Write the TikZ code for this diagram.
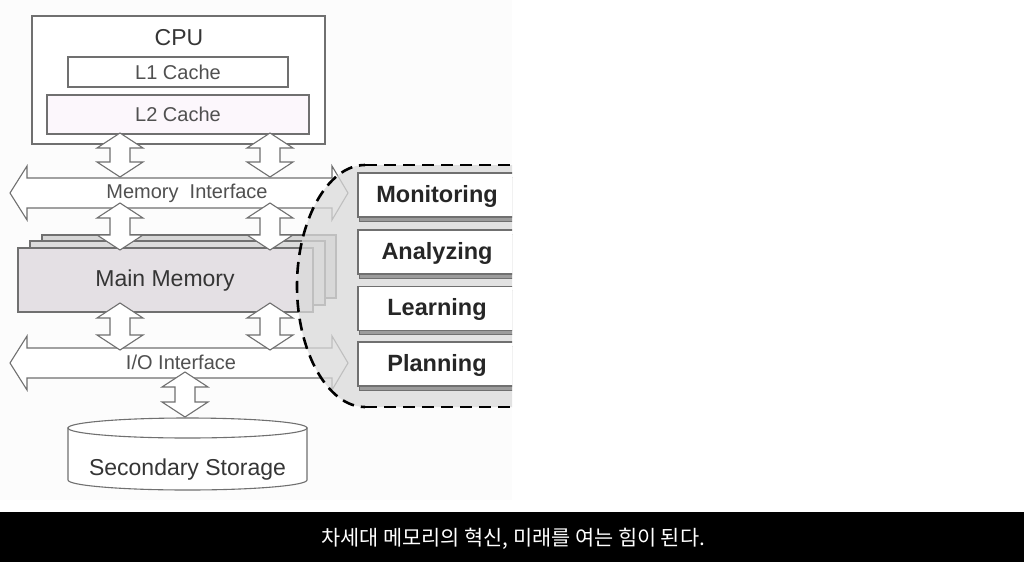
\documentclass[tikz,border=0pt]{standalone}
\usepackage{fontspec}
\setmainfont{Liberation Sans}
\newfontfamily\krfont{Noto Sans CJK KR}
\usetikzlibrary{calc}
\definecolor{panelbg}{HTML}{FCFCFC}
\definecolor{edge}{HTML}{707070}
\definecolor{txtdark}{HTML}{262626}
\definecolor{txtmid}{HTML}{353535}
\definecolor{txtlight}{HTML}{505050}
\definecolor{ltwo}{HTML}{FCF7FC}
\definecolor{memfront}{HTML}{E4E0E4}
\definecolor{memback}{HTML}{D6D6D6}
\definecolor{regiongray}{HTML}{DADADA}
\definecolor{shadowgray}{HTML}{9C9C9C}
\newcommand\fsz[1]{\fontsize{#1}{#1}\selectfont}
\begin{document}
\begin{tikzpicture}[x=1pt,y=-1pt,
  box/.style={draw=edge, line width=1.2pt, fill=white, inner sep=0pt, rectangle},
  memlayer/.style={draw=edge, line width=1.2pt, inner sep=0pt, rectangle},
  fatarrow/.style={draw=edge, line width=1.1pt, fill=white, line join=miter},
  lbl/.style={inner sep=0pt, text=txtmid},
  boldlbl/.style={inner sep=0pt, text=txtdark, font=\bfseries\fsz{23.5}},
  stagebox/.style={draw=edge, line width=1.2pt, fill=white, rectangle, inner sep=0pt,
    minimum width=158pt, minimum height=44pt},
  stageshadow/.style={draw=edge, line width=1pt, fill=shadowgray, rectangle, inner sep=0pt,
    minimum width=158pt, minimum height=44pt},
  fatv/.style={to path={
    let \p1=(\tikztostart), \p2=(\tikztotarget) in
    (\x1,\y1) -- (\x1+23pt,\y1-15pt) -- (\x1+10pt,\y1-15pt) -- (\x1+10pt,\y2+15pt)
    -- (\x1+23pt,\y2+15pt) -- (\x2,\y2) -- (\x1-23pt,\y2+15pt) -- (\x1-10pt,\y2+15pt)
    -- (\x1-10pt,\y1-15pt) -- (\x1-23pt,\y1-15pt) -- cycle}},
  fath/.style={to path={
    let \p1=(\tikztostart), \p2=(\tikztotarget) in
    (\x1,\y1) -- (\x1+17pt,\y1+27pt) -- (\x1+17pt,\y1+15pt) -- (\x2-16pt,\y1+15pt)
    -- (\x2-16pt,\y1+27pt) -- (\x2,\y2) -- (\x2-16pt,\y1-27pt) -- (\x2-16pt,\y1-15pt)
    -- (\x1+17pt,\y1-15pt) -- (\x1+17pt,\y1-27pt) -- cycle}}
]
\useasboundingbox (0,0) rectangle (1024,562);
\fill[white] (0,0) rectangle (1024,562);
\fill[panelbg] (0,0) rectangle (512,500);

% CPU block
\node[box, minimum width=293pt, minimum height=128pt] (cpu) at (178.5,80) {};
\node[lbl, font=\fsz{23}] (cpulabel) at (179,38) {CPU};
\node[box, minimum width=220pt, minimum height=30pt, font=\fsz{20}, text=txtlight] (l1) at (178,72) {L1 Cache};
\node[box, fill=ltwo, minimum width=262pt, minimum height=39pt, font=\fsz{20}, text=txtlight] (l2) at (178,114.5) {L2 Cache};

% Main memory stack
\node[memlayer, fill=memback, minimum width=294pt, minimum height=63pt] (mm3) at (189,266.5) {};
\node[memlayer, fill=memback!85!white, minimum width=295pt, minimum height=64pt] (mm2) at (177.5,273) {};
\node[memlayer, fill=memfront, minimum width=295pt, minimum height=64pt] (mm) at (165.5,280) {};
\node[lbl, font=\fsz{23}] (mmlabel) at (165,281) {Main Memory};

% interface arrows
\coordinate (mil) at (10,193);
\coordinate (mir) at (348,193);
\coordinate (iol) at (10,363);
\coordinate (ior) at (348,363);
\draw[fatarrow] (mil) to[fath] (mir);
\draw[fatarrow] (iol) to[fath] (ior);

% secondary storage
\coordinate (stc) at (187.5,428);
\path[fatarrow] (68,428) -- (68,480) .. controls (68,485.5) and (121.5,490) .. (187.5,490)
  .. controls (253.5,490) and (307,485.5) .. (307,480) -- (307,428) -- cycle;
\draw[fatarrow] (stc) ellipse [x radius=119.5, y radius=10];
\node[lbl, font=\fsz{23}] (storage) at (187.5,470) {Secondary Storage};

% vertical arrows
\coordinate (a1t) at (120,133); \coordinate (a1b) at (120,177);
\coordinate (a2t) at (270,133); \coordinate (a2b) at (270,177);
\coordinate (a3t) at (120,203); \coordinate (a3b) at (120,250);
\coordinate (a4t) at (270,203); \coordinate (a4b) at (270,250);
\coordinate (a5t) at (120,303); \coordinate (a5b) at (120,350);
\coordinate (a6t) at (270,303); \coordinate (a6b) at (270,350);
\coordinate (a7t) at (185,372); \coordinate (a7b) at (185,417);
\draw[fatarrow] (a1t) to[fatv] (a1b);
\draw[fatarrow] (a2t) to[fatv] (a2b);
\draw[fatarrow] (a3t) to[fatv] (a3b);
\draw[fatarrow] (a4t) to[fatv] (a4b);
\draw[fatarrow] (a5t) to[fatv] (a5b);
\draw[fatarrow] (a6t) to[fatv] (a6b);
\draw[fatarrow] (a7t) to[fatv] (a7b);

\node[lbl, text=txtlight, font=\fsz{20}] (memif) at (187,193) {Memory\ \ Interface};
\node[lbl, text=txtlight, font=\fsz{20}] (ioif) at (181,362) {I/O Interface};

% autonomic panel
\begin{scope}
\clip (0,0) rectangle (512,500);
\fill[regiongray, fill opacity=0.75] (530,165) -- (365,165) .. controls (328,165) and (297,220) .. (297,286)
  .. controls (297,352) and (328,407) .. (365,407) -- (530,407) -- cycle;
\draw[black, line width=2.6pt, dash pattern=on 12pt off 7pt, dash phase=6pt]
  (365,165) .. controls (328,165) and (297,220) .. (297,286)
  .. controls (297,352) and (328,407) .. (365,407);
\draw[black, line width=2.6pt, dash pattern=on 12pt off 7pt]
  (365,165) -- (512,165);
\draw[black, line width=2.6pt, dash pattern=on 12pt off 7pt]
  (365,407) -- (512,407);
\foreach \yy/\nm/\tx in {195/mon/Monitoring, 252/ana/Analyzing, 308.5/lea/Learning, 364/pla/Planning}{
  \node[stageshadow] (\nm s) at (438.5,\yy+4) {};
  \node[stagebox] (\nm) at (437,\yy) {};
  \node[boldlbl] (\nm t) at (437,\yy+1) {\tx};
}
\end{scope}

% caption band
\fill[black] (0,512) rectangle (1024,562);
\node[inner sep=0pt, text=white, font=\krfont\fsz{20.8}] (caption) at (513,539) {차세대 메모리의 혁신, 미래를 여는 힘이 된다.};
\end{tikzpicture}
\end{document}
